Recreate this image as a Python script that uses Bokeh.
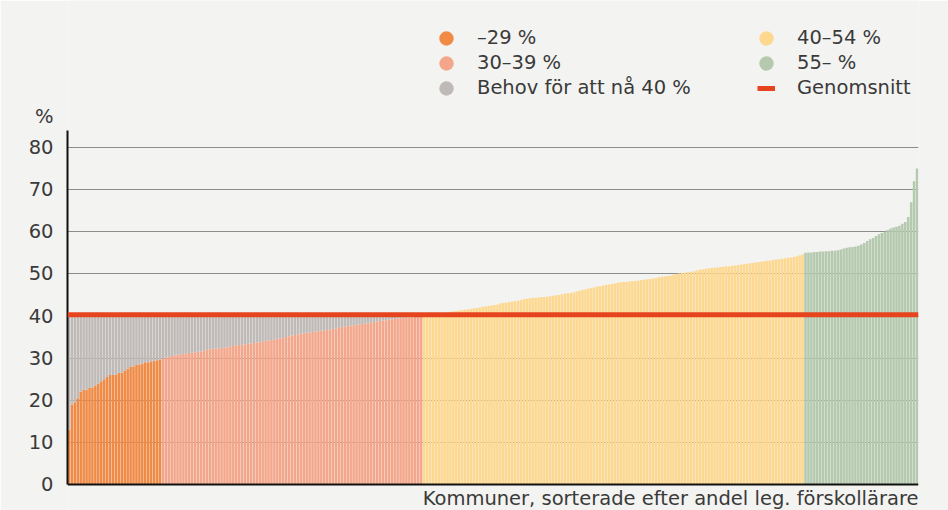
import numpy as np
from bokeh.plotting import figure
from bokeh.models import (Range1d, FixedTicker, Span, Label, Legend, LegendItem,
                          ColumnDataSource, LinearAxis)
from bokeh.embed import file_html
from bokeh.resources import INLINE

# ---- data (share of licensed preschool teachers per municipality, %, sorted) ----
share_under_30 = [13.0, 19.0, 19.5, 20.5, 22.0, 22.5, 22.5, 23.0, 23.0, 23.5, 24.0,
                  24.5, 25.0, 25.5, 26.0, 26.0, 26.0, 26.5, 26.5, 27.0, 27.5, 28.0,
                  28.0, 28.5, 28.5, 28.7, 29.0, 29.0, 29.2, 29.4, 29.5, 29.7]
share_30_39 = [30.0, 30.1, 30.3, 30.5, 30.6, 30.8, 30.9, 31.0, 31.1, 31.2, 31.3, 31.4,
               31.5, 31.6, 31.8, 32.0, 32.1, 32.2, 32.2, 32.3, 32.4, 32.5, 32.6, 32.8,
               32.9, 33.0, 33.1, 33.2, 33.3, 33.4, 33.5, 33.6, 33.7, 33.8, 34.0, 34.1,
               34.2, 34.3, 34.4, 34.6, 34.7, 34.8, 35.0, 35.2, 35.4, 35.5, 35.6, 35.8,
               35.9, 36.0, 36.1, 36.2, 36.3, 36.4, 36.5, 36.6, 36.7, 36.8, 36.9, 37.0,
               37.2, 37.4, 37.5, 37.6, 37.7, 37.8, 37.9, 38.0, 38.1, 38.2, 38.3, 38.4,
               38.6, 38.7, 38.8, 38.9, 39.0, 39.1, 39.2, 39.3, 39.4, 39.5, 39.5, 39.6,
               39.7, 39.7, 39.8, 39.9, 39.9]
share_40_54 = [40.0, 40.1, 40.2, 40.3, 40.4, 40.5, 40.6, 40.7, 40.8, 41.0,
               41.1, 41.2, 41.3, 41.4, 41.5, 41.6, 41.7, 41.8, 41.9, 42.0,
               42.2, 42.3, 42.4, 42.5, 42.6, 42.7,
               43.0, 43.1, 43.2, 43.3, 43.4, 43.5, 43.6, 43.8,
               44.0, 44.1, 44.2, 44.3, 44.3, 44.4, 44.5, 44.5, 44.6, 44.7, 44.8, 44.9, 45.0,
               45.2, 45.3, 45.4, 45.5, 45.6, 45.8,
               46.0, 46.2, 46.3, 46.5, 46.6, 46.8,
               47.0, 47.1, 47.2, 47.4, 47.5, 47.6, 47.7, 47.9,
               48.0, 48.1, 48.1, 48.2, 48.3, 48.3, 48.4, 48.5, 48.6, 48.7, 48.8, 48.9,
               49.0, 49.2, 49.3, 49.4, 49.5, 49.6, 49.8,
               50.0, 50.1, 50.2, 50.3, 50.4, 50.5, 50.6, 50.8,
               51.0, 51.1, 51.2, 51.3, 51.4, 51.5, 51.5, 51.6, 51.7, 51.8, 51.8, 51.9, 52.0,
               52.1, 52.2, 52.3, 52.4, 52.5, 52.6, 52.7, 52.8, 52.9, 53.0,
               53.1, 53.2, 53.3, 53.4, 53.5, 53.6, 53.7, 53.8, 53.9,
               54.0, 54.2, 54.4, 54.6]
share_55_plus = [55.0, 55.1, 55.1, 55.2, 55.2, 55.3, 55.3, 55.4, 55.4, 55.5, 55.5, 55.6,
                 55.8, 56.0, 56.2, 56.3, 56.4, 56.5, 56.7, 57.0, 57.3, 57.8, 58.2, 58.5,
                 59.0, 59.4, 59.7, 60.0, 60.4, 60.8, 61.0, 61.2, 61.4, 61.9, 62.3, 63.5,
                 67.0, 72.0, 75.0]
average = 40.3          # Genomsnitt
target = 40             # Behov för att nå 40 %
y_ticks = [0, 10, 20, 30, 40, 50, 60, 70, 80]
unit_tick = 87.4        # where the "%" unit label sits
legend_labels = ["–29 %", "30–39 %", "Behov för att nå 40 %",
                 "40–54 %", "55– %", "Genomsnitt"]
x_caption = "Kommuner, sorterade efter andel leg. förskollärare"
y_caption = "%"

# ---- style ----
C_ORANGE = "#f08a45"
C_SALMON = "#f4a68b"
C_GRAY = "#bfbab7"
C_YELLOW = "#fdd88e"
C_GREEN = "#b4c9ae"
C_RED = "#e5441e"
BG = "#f3f3f1"
TXT = "#3a3a3a"
FONT = "DejaVu Sans"
FS = "19.5px"

groups = [(share_under_30, C_ORANGE), (share_30_39, C_SALMON),
          (share_40_54, C_YELLOW), (share_55_plus, C_GREEN)]
values, colors = [], []
for vals, col in groups:
    values += vals
    colors += [col] * len(vals)
xs = list(range(len(values)))

gap_x = [x for x, v in zip(xs, values) if v < target]
gap_bottom = [v for v in values if v < target]

W, H = 948, 510
PX_PER_UNIT = 4.2125
p = figure(width=W, height=H, output_backend="svg", toolbar_location=None,
           x_range=Range1d(-0.5, len(values) - 0.5),
           y_range=Range1d(-26 / PX_PER_UNIT, 484 / PX_PER_UNIT),
           min_border_left=67, min_border_right=30, min_border_top=0,
           min_border_bottom=0)
p.background_fill_color = BG
p.border_fill_color = BG
p.outline_line_color = None

src = ColumnDataSource(dict(x=xs, top=values, color=colors))
p.vbar(x="x", top="top", bottom=0, width=0.86, fill_color="color",
       line_color=None, source=src)
gsrc = ColumnDataSource(dict(x=gap_x, bottom=gap_bottom, top=[target] * len(gap_x)))
p.vbar(x="x", top="top", bottom="bottom", width=0.86, fill_color=C_GRAY,
       line_color=None, source=gsrc)

p.add_layout(Span(location=average, dimension="width", line_color=C_RED,
                  line_width=5))
p.add_layout(Span(location=0, dimension="width", line_color="#111111",
                  line_width=2))

# y axis: line only (adjacent to frame)
ya = p.yaxis[0]
ya.ticker = FixedTicker(ticks=[])
ya.bounds = (0, 84)
ya.axis_line_width = 2
ya.axis_line_color = "#111111"
ya.major_tick_out = 0
ya.major_tick_in = 0
ya.minor_tick_out = 0
ya.minor_tick_in = 0
ya.major_label_standoff = 0
ya.major_label_text_color = None

# y axis: labels (incl. the unit label "%")
yb = LinearAxis(ticker=FixedTicker(ticks=y_ticks + [unit_tick]),
                major_label_overrides={unit_tick: y_caption},
                axis_line_color=None, major_tick_out=0, major_tick_in=0,
                minor_tick_out=0, minor_tick_in=0, major_label_standoff=14,
                major_label_text_font=FONT, major_label_text_font_size=FS,
                major_label_text_color=TXT)
p.add_layout(yb, "left")

p.xaxis.visible = False
p.xgrid.visible = False
p.ygrid.ticker = FixedTicker(ticks=y_ticks[1:])
p.ygrid.grid_line_color = "#8c8c8c"
p.ygrid.grid_line_width = 1

# caption
p.add_layout(Label(x=len(values) - 0.5, y=0, y_offset=-14, text=x_caption,
                   text_align="right", text_baseline="alphabetic",
                   text_font=FONT, text_font_size=FS, text_color=TXT))

# legends (invisible renderers supply the legend glyphs)
def dummy_dot(color):
    return p.ellipse(x="x", y="y", width=14, height=14, width_units="screen",
                     height_units="screen", fill_color=color, line_color=None,
                     source=ColumnDataSource(dict(x=[np.nan], y=[np.nan])))

r_or = dummy_dot(C_ORANGE)
r_sa = dummy_dot(C_SALMON)
r_gr = dummy_dot(C_GRAY)
r_ye = dummy_dot(C_YELLOW)
r_gn = dummy_dot(C_GREEN)
r_av = p.line(x="x", y="y", line_color=C_RED, line_width=5,
              source=ColumnDataSource(dict(x=[np.nan, np.nan], y=[np.nan, np.nan])))

def make_legend(items, loc):
    lg = Legend(items=items, location=loc, glyph_width=18, glyph_height=18,
                spacing=0, padding=0, margin=0, label_standoff=22,
                label_height=25, label_text_font=FONT,
                label_text_font_size=FS, label_text_color=TXT,
                border_line_color=None, background_fill_alpha=0)
    p.add_layout(lg)

make_legend([LegendItem(label=legend_labels[0], renderers=[r_or]),
             LegendItem(label=legend_labels[1], renderers=[r_sa]),
             LegendItem(label=legend_labels[2], renderers=[r_gr])], (370, 410))
make_legend([LegendItem(label=legend_labels[3], renderers=[r_ye]),
             LegendItem(label=legend_labels[4], renderers=[r_gn]),
             LegendItem(label=legend_labels[5], renderers=[r_av])], (690, 410))

open("out.html", "w").write(file_html(p, INLINE))
